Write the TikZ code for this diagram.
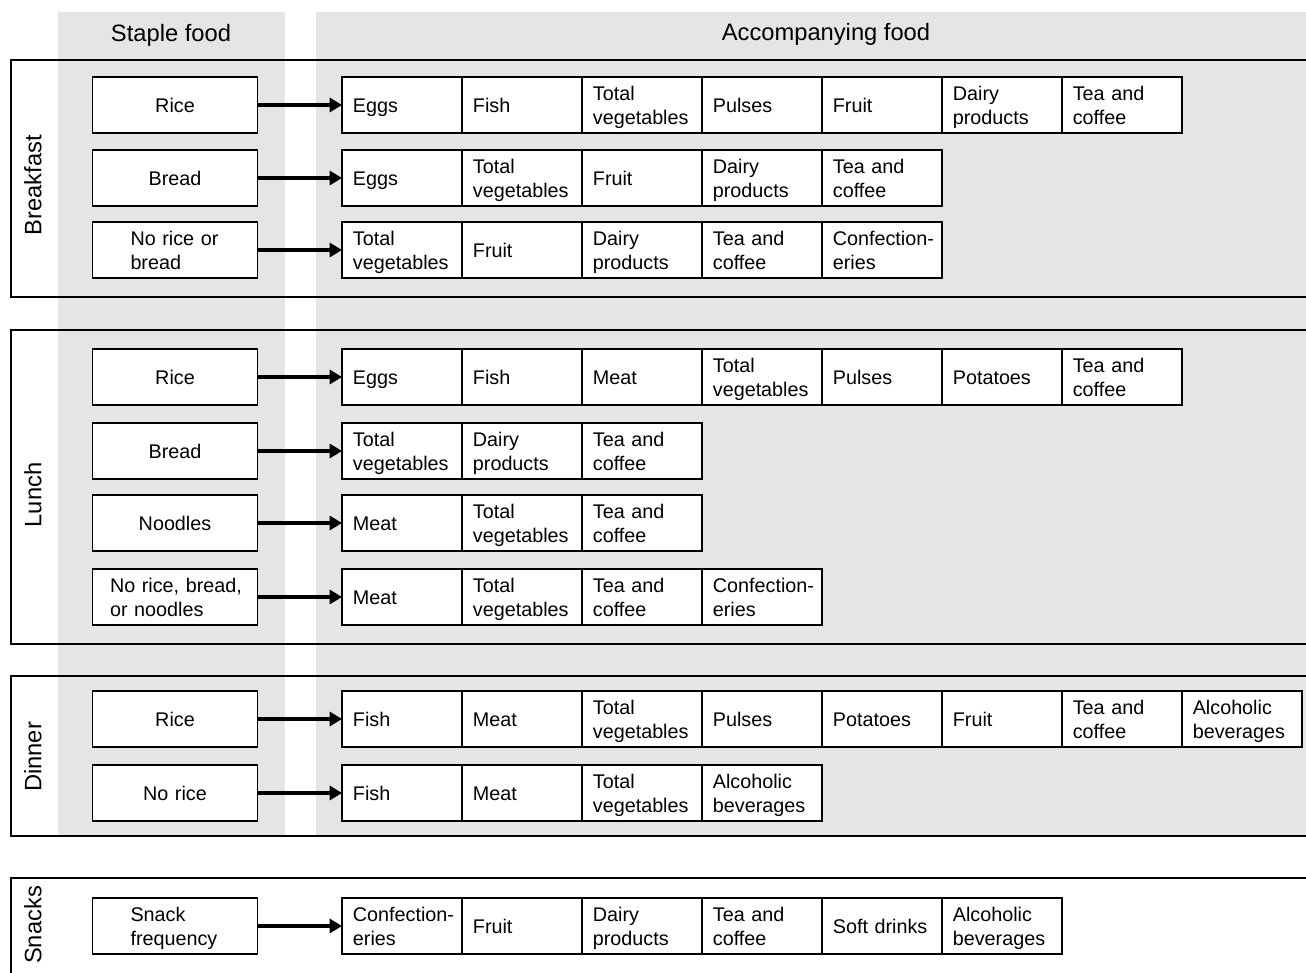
\documentclass[tikz,border=0pt]{standalone}
\usepackage{fontspec}
\setmainfont{Liberation Sans}
\usetikzlibrary{positioning,arrows.meta}
\definecolor{colgray}{RGB}{229,229,229}

\begin{document}
\begin{tikzpicture}[x=0.02cm,y=-0.02cm,>={Triangle[length=7pt,width=8pt]},
                    node distance=0pt,line width=1.1pt]
  \tikzstyle{staple}=[rectangle,draw=black,fill=white,text width=3.1cm,inner xsep=0.1cm,inner ysep=0pt,
                      minimum height=1.12cm,align=center,outer sep=0pt,font=\fontsize{11.25}{13.6}\selectfont,
                      execute at begin node=\rule{0pt}{13pt},execute at end node=\strut]
  \tikzstyle{narrow}=[align=left,text width=1.78cm,inner xsep=0.76cm]
  \tikzstyle{food}=[rectangle,draw=black,fill=white,text width=1.96cm,inner xsep=0.22cm,inner ysep=0pt,
                    minimum height=1.12cm,align=left,outer sep=0pt,font=\fontsize{11.25}{13.6}\selectfont,
                    execute at begin node=\rule{0pt}{13pt},execute at end node=\strut]
  \tikzstyle{meal}=[rotate=90,font=\fontsize{13.5}{16}\selectfont]
  \tikzstyle{head}=[font=\fontsize{13.5}{16}\selectfont]
  \tikzstyle{link}=[->,line width=2.2pt]

  \useasboundingbox (0,0) rectangle (1306,973);
  \clip (0,0) rectangle (1306,973);

  % columns
  \fill[colgray] (58,12) rectangle (285,835);
  \fill[colgray] (316,12) rectangle (1320,835);
  \node[head] (staplehead) at (171,35) {Staple food};
  \node[head] (acchead) at (826,34) {Accompanying food};

  % meals
  \draw (11,60) rectangle (1320,297);
  \draw (11,330) rectangle (1320,644);
  \draw (11,676) rectangle (1320,836);
  \draw (11,878) rectangle (1320,1000);
  \node[meal] (breakfast) at (33,185) {Breakfast};
  \node[meal] (lunch) at (33,495) {Lunch};
  \node[meal] (dinner) at (33,757) {Dinner};
  \node[meal] (snacks) at (33,925) {Snacks};

  % breakfast
  \node[staple] (b1) at (175,105) {Rice};
  \node[food] (b1a) [right=1.69cm of b1] {Eggs};
  \node[food] (b1b) [right=of b1a] {Fish};
  \node[food] (b1c) [right=of b1b] {Total\\vegetables};
  \node[food] (b1d) [right=of b1c] {Pulses};
  \node[food] (b1e) [right=of b1d] {Fruit};
  \node[food] (b1f) [right=of b1e] {Dairy\\products};
  \node[food] (b1g) [right=of b1f] {Tea and\\coffee};

  \node[staple] (b2) at (175,178) {Bread};
  \node[food] (b2a) [right=1.69cm of b2] {Eggs};
  \node[food] (b2b) [right=of b2a] {Total\\vegetables};
  \node[food] (b2c) [right=of b2b] {Fruit};
  \node[food] (b2d) [right=of b2c] {Dairy\\products};
  \node[food] (b2e) [right=of b2d] {Tea and\\coffee};

  \node[staple,narrow] (b3) at (175,250) {No rice or\\bread};
  \node[food] (b3a) [right=1.69cm of b3] {Total\\vegetables};
  \node[food] (b3b) [right=of b3a] {Fruit};
  \node[food] (b3c) [right=of b3b] {Dairy\\products};
  \node[food] (b3d) [right=of b3c] {Tea and\\coffee};
  \node[food] (b3e) [right=of b3d] {\mbox{Confection-}\\eries};

  % lunch
  \node[staple] (l1) at (175,377) {Rice};
  \node[food] (l1a) [right=1.69cm of l1] {Eggs};
  \node[food] (l1b) [right=of l1a] {Fish};
  \node[food] (l1c) [right=of l1b] {Meat};
  \node[food] (l1d) [right=of l1c] {Total\\vegetables};
  \node[food] (l1e) [right=of l1d] {Pulses};
  \node[food] (l1f) [right=of l1e] {Potatoes};
  \node[food] (l1g) [right=of l1f] {Tea and\\coffee};

  \node[staple] (l2) at (175,451) {Bread};
  \node[food] (l2a) [right=1.69cm of l2] {Total\\vegetables};
  \node[food] (l2b) [right=of l2a] {Dairy\\products};
  \node[food] (l2c) [right=of l2b] {Tea and\\coffee};

  \node[staple] (l3) at (175,523) {Noodles};
  \node[food] (l3a) [right=1.69cm of l3] {Meat};
  \node[food] (l3b) [right=of l3a] {Total\\vegetables};
  \node[food] (l3c) [right=of l3b] {Tea and\\coffee};

  \node[staple,align=left,text width=2.6cm,inner xsep=0.35cm] (l4) at (175,597) {\mbox{No rice, bread,}\\or noodles};
  \node[food] (l4a) [right=1.69cm of l4] {Meat};
  \node[food] (l4b) [right=of l4a] {Total\\vegetables};
  \node[food] (l4c) [right=of l4b] {Tea and\\coffee};
  \node[food] (l4d) [right=of l4c] {\mbox{Confection-}\\eries};

  % dinner
  \node[staple] (d1) at (175,719) {Rice};
  \node[food] (d1a) [right=1.69cm of d1] {Fish};
  \node[food] (d1b) [right=of d1a] {Meat};
  \node[food] (d1c) [right=of d1b] {Total\\vegetables};
  \node[food] (d1d) [right=of d1c] {Pulses};
  \node[food] (d1e) [right=of d1d] {Potatoes};
  \node[food] (d1f) [right=of d1e] {Fruit};
  \node[food] (d1g) [right=of d1f] {Tea and\\coffee};
  \node[food] (d1h) [right=of d1g] {Alcoholic\\beverages};

  \node[staple] (d2) at (175,793) {No rice};
  \node[food] (d2a) [right=1.69cm of d2] {Fish};
  \node[food] (d2b) [right=of d2a] {Meat};
  \node[food] (d2c) [right=of d2b] {Total\\vegetables};
  \node[food] (d2d) [right=of d2c] {Alcoholic\\beverages};

  % snacks
  \node[staple,narrow] (s1) at (175,926) {Snack\\frequency};
  \node[food] (s1a) [right=1.69cm of s1] {\mbox{Confection-}\\eries};
  \node[food] (s1b) [right=of s1a] {Fruit};
  \node[food] (s1c) [right=of s1b] {Dairy\\products};
  \node[food] (s1d) [right=of s1c] {Tea and\\coffee};
  \node[food] (s1e) [right=of s1d] {Soft drinks};
  \node[food] (s1f) [right=of s1e] {Alcoholic\\beverages};

  \path[link]
    (b1) edge (b1a)
    (b2) edge (b2a)
    (b3) edge (b3a)
    (l1) edge (l1a)
    (l2) edge (l2a)
    (l3) edge (l3a)
    (l4) edge (l4a)
    (d1) edge (d1a)
    (d2) edge (d2a)
    (s1) edge (s1a);

\end{tikzpicture}
\end{document}
